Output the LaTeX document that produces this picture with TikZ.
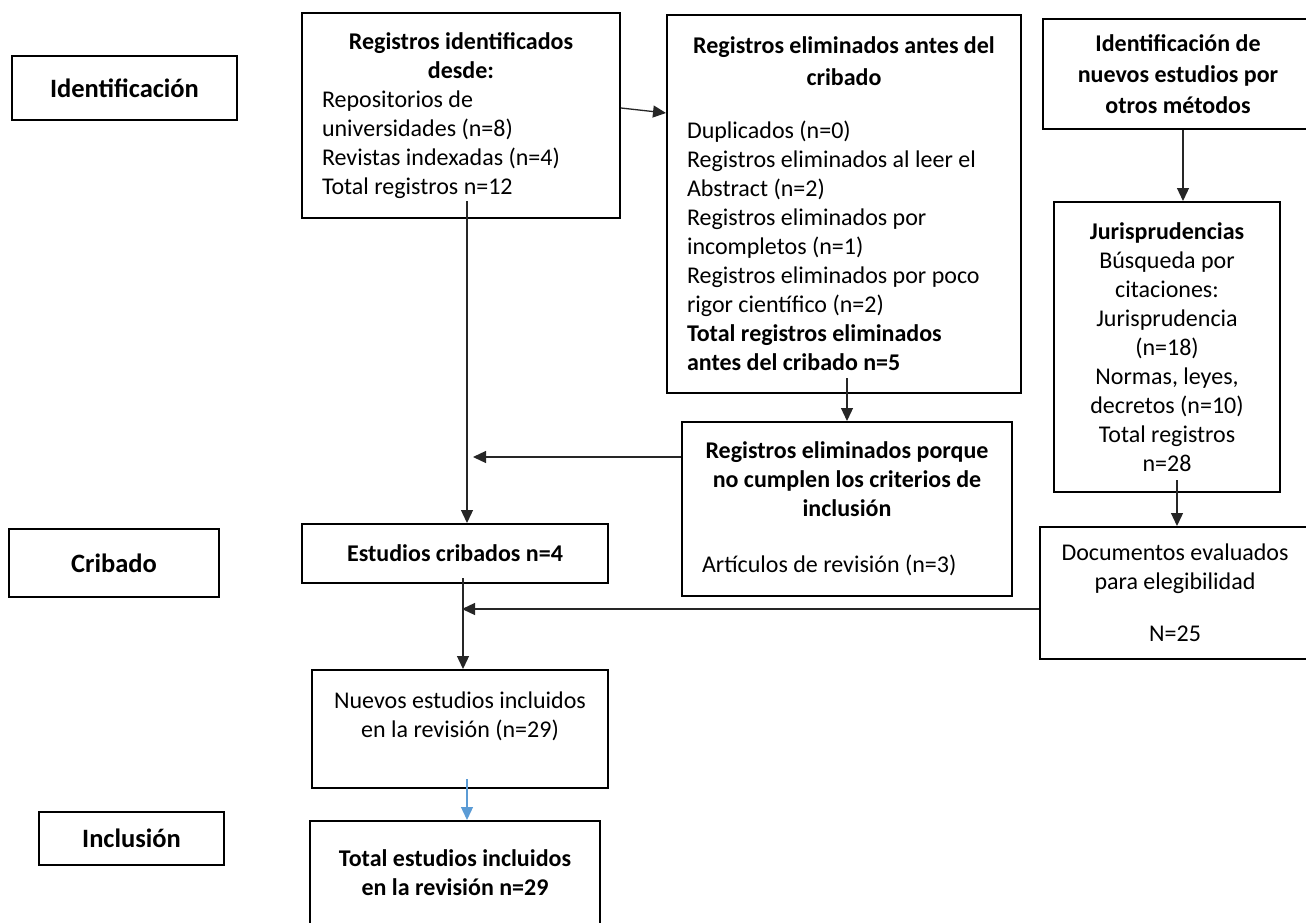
\documentclass[tikz,border=0pt]{standalone}
\usepackage{fontspec}
\setmainfont{Carlito}
\usetikzlibrary{positioning, calc, arrows.meta}
\definecolor{Linea}{HTML}{262626}
\definecolor{Azul}{HTML}{5B9BD5}
\newcommand{\tit}[1]{\makebox[\linewidth][c]{\bfseries #1}}
\tikzset{
    caja/.style={draw=black, line width=2pt, inner xsep=20pt, inner ysep=0pt, font=\fontsize{24}{29}\selectfont},
    etiqueta/.style={caja, align=center, font=\fontsize{24}{29}\selectfont\bfseries},
    fase/.style={etiqueta, font=\fontsize{26.5}{30}\selectfont\bfseries},
    flecha/.style={-{Triangle[length=13pt,width=12pt]}, line width=1.3pt, color=Linea},
    flechaazul/.style={flecha, color=Azul},
}
\begin{document}
\begin{tikzpicture}[x=1pt, y=-1pt]
                \useasboundingbox (0,0) rectangle (1306,923);

                % Fases
                \node[fase, minimum width=225pt, minimum height=64pt] (labId) at (124.5,88) {Identificación};
                \node[fase, minimum width=210pt, minimum height=68pt] (labCrib) at (114,563) {Cribado};
                \node[fase, minimum width=185pt, minimum height=53pt] (labIncl) at (131.5,838.5) {Inclusión};

                % Columna principal
                \node[caja, minimum width=318pt, text width=278pt, minimum height=205pt, align=flush left] (regId) at (461,115.5)
                    {\tit{Registros identificados}\\ \tit{desde:}\\ Repositorios de\\ universidades (n=8)\\ Revistas indexadas (n=4)\\ Total registros n=12};
                \node[caja, minimum width=354pt, text width=314pt, minimum height=378pt, align=flush left] (elimAntes) at (844,204)
                    {\tit{Registros eliminados antes del}\\[3pt] \tit{cribado}\\[24pt] Duplicados (n=0)\\ Registros eliminados al leer el\\ Abstract (n=2)\\ Registros eliminados por\\ incompletos (n=1)\\ Registros eliminados por poco\\ rigor científico (n=2)\\ \textbf{Total registros eliminados}\\ \textbf{antes del cribado n=5}};
                \node[caja, minimum width=330pt, text width=290pt, minimum height=174pt, align=flush left] (elimCrit) at (847,509)
                    {\tit{Registros eliminados porque}\\ \tit{no cumplen los criterios de}\\ \tit{inclusión}\\[27pt] Artículos de revisión (n=3)};
                \node[caja, minimum width=306pt, minimum height=59pt, font=\fontsize{24}{29}\selectfont\bfseries] (estCrib) at (455,553.5) {Estudios cribados n=4};
                \node[caja, minimum width=296pt, minimum height=118pt, align=center] (nuevos) at (460,729)
                    {Nuevos estudios incluidos\\ en la revisión (n=29)\\ \mbox{}};
                \node[caja, minimum width=290pt, minimum height=103pt, align=center, font=\fontsize{24}{29}\selectfont\bfseries] (totalInc) at (455,872.5)
                    {Total estudios incluidos\\ en la revisión n=29};

                % Otros métodos
                \node[etiqueta, minimum width=270pt, minimum height=110pt] (otrosMet) at (1178,74)
                    {Identificación de\\[2pt] nuevos estudios por\\[2pt] otros métodos};
                \node[caja, minimum width=226pt, minimum height=290pt, align=center] (juris) at (1167,347)
                    {\textbf{Jurisprudencias}\\ Búsqueda por\\ citaciones:\\ Jurisprudencia\\ (n=18)\\ Normas, leyes,\\ decretos (n=10)\\ Total registros\\ n=28};
                \node[caja, minimum width=270pt, minimum height=132pt, align=center] (docEval) at (1175,593)
                    {Documentos evaluados\\ para elegibilidad\\[23pt] N=25};

                % Conectores
                \coordinate (bajadaA) at ([xshift=6pt, yshift=18pt]regId.south);
                \coordinate (bajadaB) at ([xshift=8pt, yshift=6pt]estCrib.south);
                \coordinate (salidaE) at ([yshift=52pt]elimCrit.west);
                \coordinate (salidaDoc) at ([yshift=-16pt]docEval.west);

                \draw[flecha] ([yshift=7.5pt]regId.east) -- ([yshift=91pt]elimAntes.west);
                \draw[flecha] (bajadaA) -- (bajadaA |- estCrib.north);
                \draw[flecha] ([xshift=3pt, yshift=16pt]elimAntes.south) -- ([xshift=3pt]elimAntes.south |- elimCrit.north);
                \draw[flecha] (salidaE) -- ($(bajadaA |- salidaE)+(6,0)$);
                \draw[flecha] (bajadaB) -- (bajadaB |- nuevos.north);
                \draw[flecha] (salidaDoc) -- ($(bajadaB |- salidaDoc)+(-1,0)$);
                \draw[flechaazul] ([xshift=7pt, yshift=10pt]nuevos.south) -- ([xshift=7pt]nuevos.south |- totalInc.north);
                \draw[flecha] ([xshift=5pt]otrosMet.south) -- ([xshift=5pt]otrosMet.south |- juris.north);
                \draw[flecha] ([xshift=10pt, yshift=13pt]juris.south) -- ([xshift=10pt]juris.south |- docEval.north);
            \end{tikzpicture}
\end{document}
